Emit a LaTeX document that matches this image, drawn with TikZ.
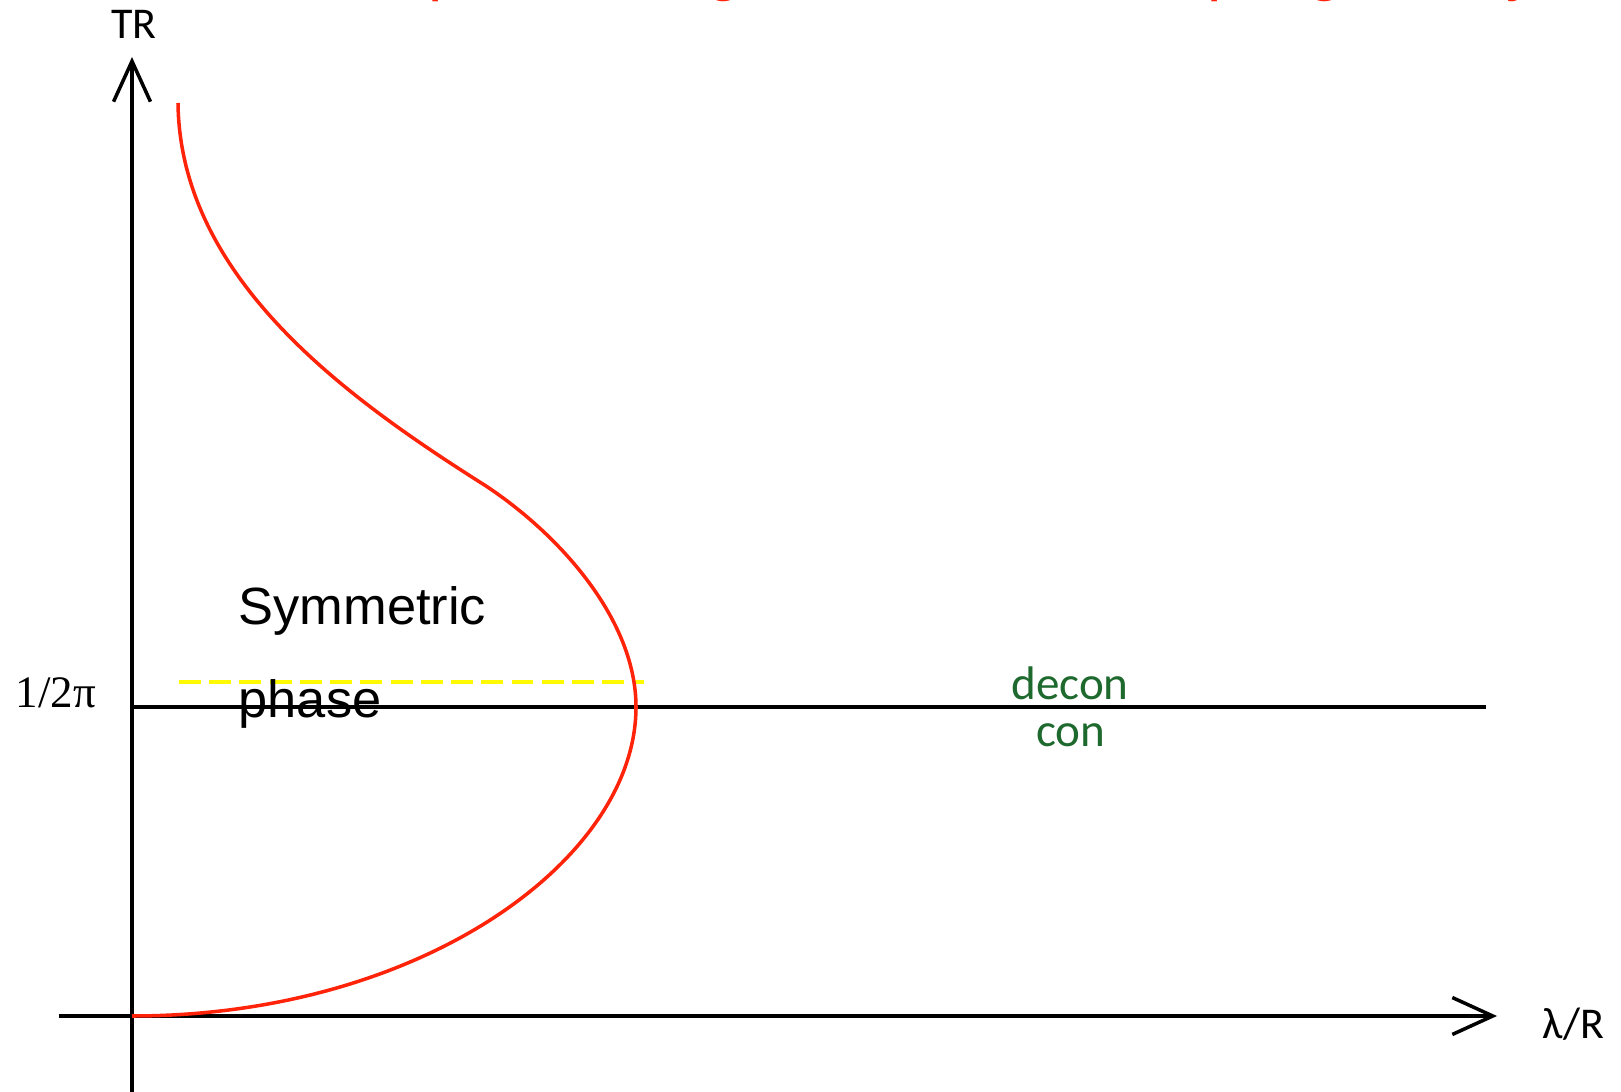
\documentclass[tikz,border=0pt]{standalone}
\usepackage{fontspec}
\setmainfont{Liberation Sans}
\newfontfamily\calfont{Carlito}
\newfontfamily\serfont{Liberation Serif}
\usetikzlibrary{arrows.meta}
\definecolor{curvered}{RGB}{255,35,10}
\definecolor{phasegreen}{RGB}{30,105,45}
\definecolor{dashyellow}{RGB}{255,250,0}

\begin{document}
\begin{tikzpicture}[x=0.01cm,y=-0.01cm,
  ax/.style={line width=1pt,-{Straight Barb[length=11.5pt,width=10.5pt,line width=1pt]}},
  crv/.style={curvered,line width=1pt},
  ylw/.style={dashyellow,line width=1.3pt,dash pattern=on 6.2pt off 2.4pt},
  axlab/.style={inner sep=0pt,font=\calfont\fontsize{12.5pt}{14pt}\selectfont},
  reg/.style={inner sep=0pt,anchor=base west,font=\fontsize{14.9pt}{18pt}\selectfont},
  grn/.style={inner sep=0pt,anchor=base,phasegreen,font=\calfont\fontsize{13.4pt}{16pt}\selectfont}]
\useasboundingbox (0,0) rectangle (1621,1092);
% ---- title (cut off at the top)
\node[inner sep=0pt,anchor=base west,curvered,font=\fontsize{18.2pt}{22pt}\selectfont] (ttl) at (300,-11) {The phase diagram in weak coupling theory};
% ---- axes
\coordinate (o) at (132,1016);
\coordinate (ybot) at (132,1100);
\coordinate (ytop) at (132,57);
\coordinate (xl) at (59,1016);
\coordinate (xr) at (1497,1016);
\draw[ax] (ybot) -- (ytop);
\draw[ax] (xl) -- (xr);
\node[axlab,anchor=base] (tr) at (134,39) {TR};
\node[axlab,anchor=base west] (lr) at (1542,1039) {λ/R};
% ---- transition line
\coordinate (hl) at (132,707);
\coordinate (hr) at (1486,707);
\draw[line width=1pt] (hl) -- (hr);
\node[inner sep=0pt,anchor=base west,font=\serfont\fontsize{12.8pt}{15pt}\selectfont] (half) at (15,708) {1/2π};
\node[grn] (dec) at (1070,700) {decon};
\node[grn] (con) at (1071,747) {con};
% ---- yellow dashes
\coordinate (yl) at (179,682);
\coordinate (yr) at (644,682);
\draw[ylw] (yl) -- (yr);
% ---- red phase boundary
\draw[crv] (178,103) .. controls (180,280) and (350,400) .. (486,486)
  .. controls (560,535) and (636,620) .. (636,707)
  .. controls (636,860) and (420,1016) .. (o);
% ---- region label
\node[reg] (sym) at (238,625) {Symmetric};
\node[reg] (ph) at (238,718) {phase};
\end{tikzpicture}
\end{document}
